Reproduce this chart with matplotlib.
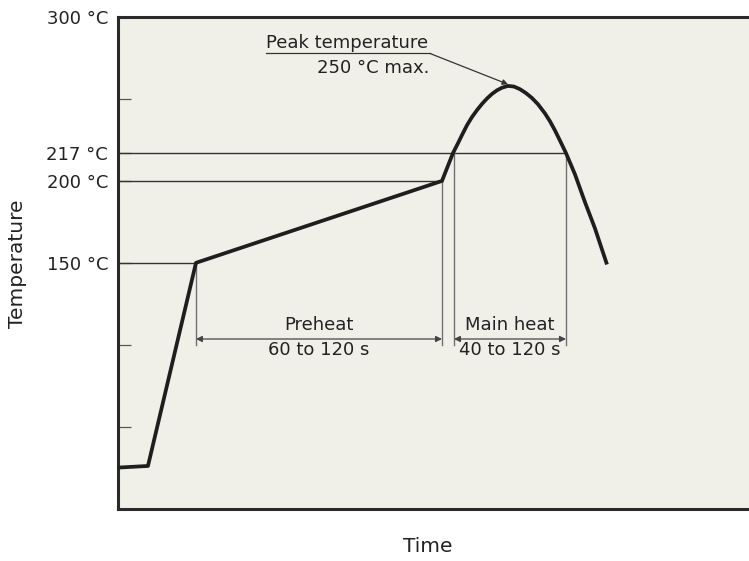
import matplotlib.pyplot as plt

# profil de refusão (tempo em unidades arbitrárias, temperatura em °C)
tempo = [0, 30, 78, 324, 335, 340, 344, 349, 354, 359, 364, 369, 374, 379, 384, 390,
         396, 402, 408, 414, 420, 427, 432, 437, 442, 448, 457, 467, 477, 489]
temperatura = [25, 26, 150, 200, 217, 223, 228, 234, 239, 243.2, 247, 250.3, 253.1, 255.3, 256.9, 258,
               257.6, 256.0, 253.6, 250.6, 246.8, 241.2, 236.4, 230.8, 224.6, 217, 204, 187, 171, 149]

yticks = [0, 50, 100, 150, 200, 217, 250, 300]
ytick_labels = ['', '', '', '150 °C', '200 °C', '217 °C', '', '300 °C']

# linhas de referência: (temperatura, fim em x)
refs = [(150, 78), (200, 324), (217, 448)]

# zonas: (inicio, fim, nome, faixa)
zonas = [(78, 324, 'Preheat', '60 to 120 s'), (336, 448, 'Main heat', '40 to 120 s')]
topo_zonas = [150, 200, 217, 217]
base_zona = 100
seta_zona = 103.5

pico_x, pico_t = 390, 259

fundo = '#f1f0e8'
escuro = '#222222'
cinza = '#707070'

fig = plt.figure(figsize=(7.49, 5.61), dpi=100)
ax = fig.add_axes([0.1575, 0.0935, 0.8545, 0.876])
ax.set_facecolor(fundo)
ax.set_xlim(0, 640)
ax.set_ylim(0, 300)

for t, x_fim in refs:
  ax.plot([0, x_fim], [t, t], color='#333333', lw=1.0, zorder=2)

xs_vert = [zonas[0][0], zonas[0][1], zonas[1][0], zonas[1][1]]
for x, t in zip(xs_vert, topo_zonas):
  ax.plot([x, x], [base_zona, t], color=cinza, lw=1.0, zorder=2)

for ini, fim, nome, faixa in zonas:
  ax.annotate('', xy=(ini, seta_zona), xytext=(fim, seta_zona),
              arrowprops=dict(arrowstyle='<|-|>', color='#444444', lw=0.9,
                              mutation_scale=9, shrinkA=0, shrinkB=0))
  meio = (ini + fim) / 2
  ax.text(meio, seta_zona + 3.0, nome, ha='center', va='bottom', fontsize=13, color=escuro)
  ax.text(meio, seta_zona - 1.0, faixa, ha='center', va='top', fontsize=13, color=escuro)

ax.plot(tempo, temperatura, color='#1e1e1e', lw=2.7, solid_joinstyle='round',
        solid_capstyle='butt', zorder=3)

# anotação do pico
ax.plot([148, 312], [277.8, 277.8], color='#333333', lw=0.9)
ax.annotate('', xy=(pico_x, pico_t), xytext=(312, 277.8),
            arrowprops=dict(arrowstyle='-|>', color='#333333', lw=0.9,
                            mutation_scale=8, shrinkA=0, shrinkB=0))
ax.text(148, 278.6, 'Peak temperature', ha='left', va='bottom', fontsize=13, color=escuro)
ax.text(311, 269, '250 °C max.', ha='right', va='center', fontsize=13, color=escuro)

ax.set_yticks(yticks)
ax.set_yticklabels(ytick_labels, fontsize=13, color=escuro)
ax.tick_params(axis='y', direction='in', length=9, width=0.9, color='#555555', pad=7)
ax.set_xticks([])

for lado in ['left', 'bottom', 'top']:
  ax.spines[lado].set_linewidth(2.2)
  ax.spines[lado].set_color('#2a2a2a')
ax.spines['right'].set_visible(False)

fig.text(0.024, 0.53, 'Temperature', rotation=90, ha='center', va='center', fontsize=14.5, color=escuro)
fig.text(0.571, 0.025, 'Time', ha='center', va='center', fontsize=14.5, color=escuro)

fig.savefig('out.png', dpi=100)
